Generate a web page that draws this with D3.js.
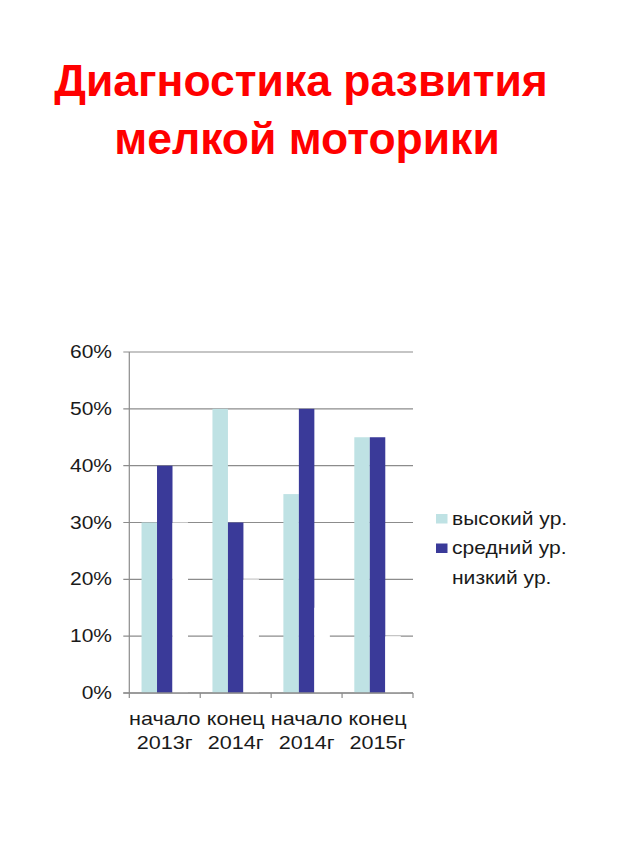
<!DOCTYPE html>
<html><head><meta charset="utf-8">
<script src="https://cdn.jsdelivr.net/npm/d3@7"></script>
<style>
html,body{margin:0;padding:0;background:#fff;}
svg{display:block;font-family:Arial,"Liberation Sans",sans-serif;}
</style></head>
<body>
<svg id="c" width="640" height="853"></svg>
<script>
const titleLines = ["Диагностика развития", "мелкой моторики"];
const categories = [["начало","2013г"],["конец","2014г"],["начало","2014г"],["конец","2015г"]];
const seriesNames = ["высокий ур.", "средний ур.", "низкий ур."];
const seriesColors = ["#bfe2e4", "#3a3a99", "#ffffff"];
const high = [0.30, 0.50, 0.35, 0.45];
const mid = [0.40, 0.30, 0.50, 0.45];
const low = [0.30, 0.20, 0.15, 0.10];
const yTicks = [0, 0.1, 0.2, 0.3, 0.4, 0.5, 0.6];

(function(){
const series = [high, mid, low];
const svg = d3.select("#c");
const SX = 1.2;

// title
svg.selectAll("text.title").data(titleLines).join("text")
  .attr("class","title")
  .attr("x", (d,i)=> i ? 307 : 301).attr("y", (d,i)=> 96 + i*58)
  .attr("text-anchor","middle")
  .attr("font-size", 44.5).attr("font-weight","bold")
  .attr("fill","#ff0000")
  .text(d=>d);

const pL = 129.3, pR = 413, pT = 352, pB = 693;
const x0 = d3.scaleBand().domain(d3.range(categories.length)).range([pL, pR]).padding(0);
const x1 = d3.scaleBand().domain(d3.range(series.length)).range([0, x0.bandwidth()]).paddingInner(0).paddingOuter(0.79);
const y = d3.scaleLinear().domain([0, 0.6]).range([pB, pT]);

const g = svg.append("g");
g.selectAll("line.grid").data(yTicks).join("line")
  .attr("x1", pL - 6).attr("x2", pR)
  .attr("y1", d=>y(d)).attr("y2", d=>y(d))
  .attr("stroke","#8c8c8c").attr("stroke-width",1.2);

const groups = g.selectAll("g.cat").data(categories).join("g")
  .attr("transform",(d,i)=>`translate(${x0(i)},0)`);
groups.selectAll("rect").data((d,i)=>series.map((s,j)=>({j, v:s[i]}))).join("rect")
  .attr("x", d=>x1(d.j)).attr("width", x1.bandwidth())
  .attr("y", d=>y(d.v)).attr("height", d=>y(0)-y(d.v))
  .attr("fill", d=>seriesColors[d.j]);

g.append("line").attr("x1",pL).attr("x2",pL).attr("y1",pT).attr("y2",pB)
  .attr("stroke","#8c8c8c").attr("stroke-width",1.2);
g.append("line").attr("x1",pL-6).attr("x2",pR).attr("y1",pB).attr("y2",pB)
  .attr("stroke","#8c8c8c").attr("stroke-width",1.3);
g.selectAll("line.xt").data(d3.range(categories.length+1)).join("line")
  .attr("x1", i=> pL + i*x0.step()).attr("x2", i=> pL + i*x0.step())
  .attr("y1", pB).attr("y2", pB+5)
  .attr("stroke","#8c8c8c").attr("stroke-width",1.2);

const fmt = d3.format(".0%");
g.selectAll("text.yl").data(yTicks).join("text")
  .attr("transform", d=>`translate(112,${y(d)+6}) scale(${SX},1)`)
  .attr("text-anchor","end").attr("font-size",17.5).attr("fill","#1a1a1a")
  .text(d=>fmt(d));

categories.forEach((c,i)=>{
  c.forEach((t,k)=>{
    g.append("text")
      .attr("transform", `translate(${x0(i)+x0.bandwidth()/2},${724.5 + k*24.5}) scale(${SX},1)`)
      .attr("text-anchor","middle").attr("font-size",18).attr("fill","#1a1a1a")
      .text(t);
  });
});

const lg = svg.append("g");
seriesNames.forEach((n,i)=>{
  lg.append("rect").attr("x",436).attr("y",514 + i*29.5).attr("width",11.5).attr("height",9.5)
    .attr("fill", seriesColors[i]);
  lg.append("text")
    .attr("transform", `translate(452,${524.5 + i*29.5}) scale(1.17,1)`)
    .attr("font-size",18).attr("fill","#1a1a1a").text(n);
});
})();
</script>
</body></html>
